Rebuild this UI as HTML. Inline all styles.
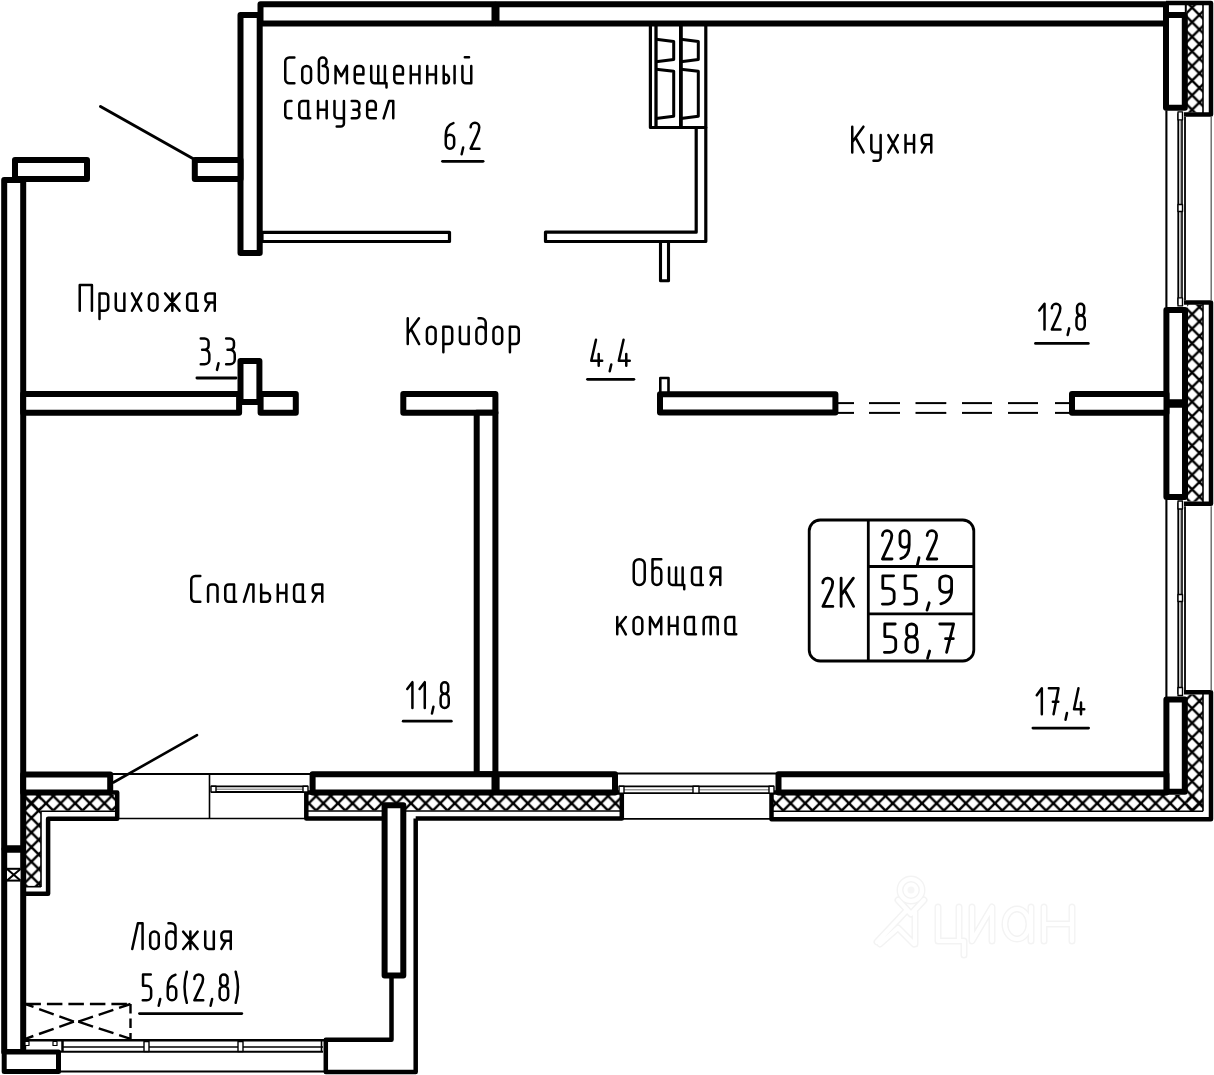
<!DOCTYPE html>
<html><head><meta charset="utf-8"><title>Floor plan</title>
<style>html,body{margin:0;padding:0;background:#fff;} svg{display:block;}</style>
</head><body>
<svg width="1214" height="1075" viewBox="0 0 1214 1075">
<defs><pattern id="h" patternUnits="userSpaceOnUse" width="14.6" height="14.6" x="1199.4" y="0.3">
<path d="M0,0 L14.6,14.6 M14.6,0 L0,14.6" stroke="#000" stroke-width="2.4"/>
<path d="M-1,13.6 L1,15.6 M13.6,-1 L15.6,1 M-1,1 L1,-1 M13.6,15.6 L15.6,13.6" stroke="#000" stroke-width="2.4"/>
</pattern></defs>
<rect width="1214" height="1075" fill="#fff"/>
<g fill="none" stroke-linecap="round" stroke-linejoin="round">
<g stroke="#f3f3f3" stroke-width="7">
<circle cx="911" cy="890" r="11"/>
<path d="M898,900 L911,914 L924,900 M877,942 L907,910 M880,944 L898,928 L914,944 M915,912 V944"/>
<path d="M938,907 V941 H959 V907 M959,941 H964 V955 M972,907 V941 L992,907 V941 M1031,907 V941 M1044,907 V941 M1072,907 V941 M1044,924 H1072"/>
<ellipse cx="1017" cy="924" rx="12" ry="15"/>
</g>
<g stroke="#ffffff" stroke-width="4.2">
<circle cx="911" cy="890" r="11"/>
<path d="M898,900 L911,914 L924,900 M877,942 L907,910 M880,944 L898,928 L914,944 M915,912 V944"/>
<path d="M938,907 V941 H959 V907 M959,941 H964 V955 M972,907 V941 L992,907 V941 M1031,907 V941 M1044,907 V941 M1072,907 V941 M1044,924 H1072"/>
<ellipse cx="1017" cy="924" rx="12" ry="15"/>
</g>
<circle cx="911" cy="890" r="3.5" fill="#f6f6f6" stroke="none"/>
</g>
<g stroke-linejoin="round">
<rect x="1187.0" y="5.0" width="16.0" height="107.5" fill="url(#h)" stroke="none"/>
<line x1="1203.0" y1="4.0" x2="1203.0" y2="113.0" stroke="#000" stroke-width="1.6" />
<path d="M1166,3 H1211 V114.6 H1184" fill="none" stroke="#000" stroke-width="4.5" />
<rect x="1187.0" y="304.5" width="16.0" height="197.0" fill="url(#h)" stroke="none"/>
<line x1="1203.0" y1="304.0" x2="1203.0" y2="502.0" stroke="#000" stroke-width="1.6" />
<path d="M1184,302.4 H1211 V503.8 H1184" fill="none" stroke="#000" stroke-width="4.5" />
<rect x="1187.0" y="694.5" width="16.0" height="116.5" fill="url(#h)" stroke="none"/>
<rect x="771.5" y="795.0" width="431.5" height="16.0" fill="url(#h)" stroke="none"/>
<line x1="1203.0" y1="694.0" x2="1203.0" y2="811.3" stroke="#000" stroke-width="1.6" />
<line x1="773.0" y1="811.3" x2="1203.0" y2="811.3" stroke="#000" stroke-width="1.6" />
<path d="M1184,692.3 H1211 V819.2 H771.5 V792.6 H778" fill="none" stroke="#000" stroke-width="4.5" />
<rect x="306.3" y="795.0" width="315.5" height="15.5" fill="url(#h)" stroke="none"/>
<line x1="307.0" y1="811.0" x2="621.0" y2="811.0" stroke="#000" stroke-width="1.6" />
<path d="M614,792.6 H621.8 V818.6 H415.7" fill="none" stroke="#000" stroke-width="4.5" />
<path d="M382,818.6 H306.3 V792.6 H313" fill="none" stroke="#000" stroke-width="4.5" />
<rect x="25.8" y="795.0" width="91.4" height="15.7" fill="url(#h)" stroke="none"/>
<rect x="25.8" y="795.0" width="15.0" height="91.5" fill="url(#h)" stroke="none"/>
<line x1="41.0" y1="811.2" x2="116.0" y2="811.2" stroke="#000" stroke-width="1.6" />
<line x1="41.0" y1="811.2" x2="41.0" y2="887.0" stroke="#000" stroke-width="1.6" />
<line x1="25.0" y1="886.7" x2="41.0" y2="886.7" stroke="#000" stroke-width="1.6" />
<path d="M110,792.6 H117.2 V818.8 H48.1 V893.7 H23.2" fill="none" stroke="#000" stroke-width="4.5" />
<rect x="15.0" y="160.0" width="72.0" height="19.0" fill="#fff" stroke="#000" stroke-width="6" />
<rect x="4.2" y="180.0" width="19.0" height="668.2" fill="#fff" stroke="#000" stroke-width="6" />
<rect x="4.2" y="849.8" width="19.0" height="202.3" fill="#fff" stroke="#000" stroke-width="6" />
<rect x="4.2" y="1052.1" width="54.3" height="19.3" fill="#fff" stroke="#000" stroke-width="5" />
<rect x="7" y="868.8" width="13.5" height="11.8" fill="#fff" stroke="none"/>
<line x1="7.0" y1="868.8" x2="20.5" y2="868.8" stroke="#000" stroke-width="2" />
<line x1="7.0" y1="880.6" x2="20.5" y2="880.6" stroke="#000" stroke-width="2" />
<line x1="7.0" y1="869.0" x2="20.5" y2="880.5" stroke="#000" stroke-width="2" />
<line x1="20.5" y1="869.0" x2="7.0" y2="880.5" stroke="#000" stroke-width="2" />
<rect x="240.5" y="15.0" width="19.2" height="238.0" fill="#fff" stroke="#000" stroke-width="6" />
<rect x="194.8" y="160.0" width="45.7" height="19.0" fill="#fff" stroke="#000" stroke-width="6" />
<rect x="260.5" y="4.2" width="234.0" height="19.2" fill="#fff" stroke="#000" stroke-width="6" />
<rect x="496.5" y="4.2" width="669.5" height="19.2" fill="#fff" stroke="#000" stroke-width="6" />
<rect x="1166.0" y="14.9" width="18.8" height="92.8" fill="#fff" stroke="#000" stroke-width="6" />
<line x1="1185.8" y1="3.0" x2="1185.8" y2="15.0" stroke="#000" stroke-width="2" />
<rect x="1166.4" y="309.9" width="18.6" height="92.4" fill="#fff" stroke="#000" stroke-width="6" />
<rect x="1166.4" y="404.7" width="18.6" height="92.3" fill="#fff" stroke="#000" stroke-width="6" />
<rect x="1166.4" y="699.6" width="18.4" height="92.1" fill="#fff" stroke="#000" stroke-width="6" />
<rect x="262.0" y="232.3" width="187.5" height="9.2" fill="#fff" stroke="#000" stroke-width="3.2" />
<path d="M545.5,232.2 H696.2 V127.5 H705.8 V241.5 H545.5 Z" fill="#fff" stroke="#000" stroke-width="3.2" />
<path d="M650.4,23 V127.5 H705.8 V23" fill="none" stroke="#000" stroke-width="3.2" />
<line x1="656.0" y1="23.0" x2="656.0" y2="127.5" stroke="#000" stroke-width="3.3" />
<line x1="680.9" y1="23.0" x2="680.9" y2="127.5" stroke="#000" stroke-width="3.8" />
<path d="M656,39.3 L673.7,41.4 V59.6 L656,61.7" fill="none" stroke="#000" stroke-width="3" stroke-linejoin="round"/>
<path d="M656,69.2 L673.7,71.3 V116.3 L656,118.4" fill="none" stroke="#000" stroke-width="3" stroke-linejoin="round"/>
<path d="M680.9,39.3 L698.3,41.4 V59.6 L680.9,61.7" fill="none" stroke="#000" stroke-width="3" stroke-linejoin="round"/>
<path d="M680.9,69.2 L698.3,71.3 V116.3 L680.9,118.4" fill="none" stroke="#000" stroke-width="3" stroke-linejoin="round"/>
<rect x="660.5" y="241.5" width="8.0" height="39.2" fill="#fff" stroke="#000" stroke-width="3.1" />
<rect x="660.3" y="378.0" width="8.2" height="16.0" fill="#fff" stroke="#000" stroke-width="2.6" />
<rect x="660.0" y="394.2" width="175.4" height="18.3" fill="#fff" stroke="#000" stroke-width="6" />
<line x1="838.0" y1="403.1" x2="854.0" y2="403.1" stroke="#000" stroke-width="2" />
<line x1="838.0" y1="412.9" x2="854.0" y2="412.9" stroke="#000" stroke-width="2" />
<line x1="869.0" y1="403.1" x2="900.0" y2="403.1" stroke="#000" stroke-width="2" />
<line x1="869.0" y1="412.9" x2="900.0" y2="412.9" stroke="#000" stroke-width="2" />
<line x1="915.5" y1="403.1" x2="946.3" y2="403.1" stroke="#000" stroke-width="2" />
<line x1="915.5" y1="412.9" x2="946.3" y2="412.9" stroke="#000" stroke-width="2" />
<line x1="962.0" y1="403.1" x2="992.0" y2="403.1" stroke="#000" stroke-width="2" />
<line x1="962.0" y1="412.9" x2="992.0" y2="412.9" stroke="#000" stroke-width="2" />
<line x1="1008.0" y1="403.1" x2="1038.0" y2="403.1" stroke="#000" stroke-width="2" />
<line x1="1008.0" y1="412.9" x2="1038.0" y2="412.9" stroke="#000" stroke-width="2" />
<line x1="1055.0" y1="403.1" x2="1072.0" y2="403.1" stroke="#000" stroke-width="2" />
<line x1="1055.0" y1="412.9" x2="1072.0" y2="412.9" stroke="#000" stroke-width="2" />
<rect x="1072.0" y="393.9" width="94.5" height="18.9" fill="#fff" stroke="#000" stroke-width="6" />
<rect x="23.2" y="394.0" width="215.9" height="18.8" fill="#fff" stroke="#000" stroke-width="6" />
<rect x="240.5" y="361.0" width="18.9" height="40.9" fill="#fff" stroke="#000" stroke-width="6" />
<rect x="260.6" y="393.9" width="35.2" height="18.9" fill="#fff" stroke="#000" stroke-width="6" />
<rect x="403.3" y="394.0" width="92.1" height="18.8" fill="#fff" stroke="#000" stroke-width="6" />
<rect x="476.7" y="412.8" width="18.7" height="361.4" fill="#fff" stroke="#000" stroke-width="6" />
<rect x="23.2" y="774.4" width="87.0" height="18.2" fill="#fff" stroke="#000" stroke-width="6" />
<rect x="312.6" y="774.3" width="181.9" height="18.3" fill="#fff" stroke="#000" stroke-width="6" />
<rect x="496.6" y="774.3" width="118.4" height="18.3" fill="#fff" stroke="#000" stroke-width="6" />
<rect x="778.5" y="774.3" width="387.9" height="18.3" fill="#fff" stroke="#000" stroke-width="6" />
<path d="M391.5,975.6 V1039.8 H325.8 V1071.9 H415.7 V818.6" fill="none" stroke="#000" stroke-width="4.5" stroke-linejoin="round"/>
<rect x="384.6" y="805.2" width="18.7" height="170.4" fill="#fff" stroke="#000" stroke-width="6" />
<line x1="1166.4" y1="110.4" x2="1166.4" y2="307.4" stroke="#000" stroke-width="2.1" />
<line x1="1178.2" y1="113.4" x2="1178.2" y2="304.4" stroke="#000" stroke-width="1.7" />
<line x1="1180.2" y1="113.4" x2="1180.2" y2="304.4" stroke="#aaa" stroke-width="1.6" />
<line x1="1182.0" y1="113.4" x2="1182.0" y2="304.4" stroke="#000" stroke-width="1.6" />
<line x1="1185.0" y1="117.0" x2="1185.0" y2="300.3" stroke="#000" stroke-width="1.8" />
<line x1="1211.2" y1="117.0" x2="1211.2" y2="300.3" stroke="#666" stroke-width="1.4" />
<rect x="1178" y="204.5" width="4.5" height="7" fill="#fff" stroke="#000" stroke-width="1.4"/>
<rect x="1178" y="111.9" width="4.5" height="8" fill="#fff" stroke="#000" stroke-width="1.4"/>
<rect x="1178" y="297.9" width="4.5" height="8" fill="#fff" stroke="#000" stroke-width="1.4"/>
<line x1="1166.4" y1="499.5" x2="1166.4" y2="697.0" stroke="#000" stroke-width="2.1" />
<line x1="1178.2" y1="502.5" x2="1178.2" y2="694.0" stroke="#000" stroke-width="1.7" />
<line x1="1180.2" y1="502.5" x2="1180.2" y2="694.0" stroke="#aaa" stroke-width="1.6" />
<line x1="1182.0" y1="502.5" x2="1182.0" y2="694.0" stroke="#000" stroke-width="1.6" />
<line x1="1185.0" y1="506.3" x2="1185.0" y2="690.5" stroke="#000" stroke-width="1.8" />
<line x1="1211.2" y1="506.3" x2="1211.2" y2="690.5" stroke="#666" stroke-width="1.4" />
<rect x="1178" y="594.5" width="4.5" height="7" fill="#fff" stroke="#000" stroke-width="1.4"/>
<rect x="1178" y="501.0" width="4.5" height="8" fill="#fff" stroke="#000" stroke-width="1.4"/>
<rect x="1178" y="687.5" width="4.5" height="8" fill="#fff" stroke="#000" stroke-width="1.4"/>
<line x1="617.0" y1="773.6" x2="776.0" y2="773.6" stroke="#000" stroke-width="2" />
<line x1="619.0" y1="786.3" x2="774.0" y2="786.3" stroke="#000" stroke-width="1.8" />
<line x1="621.0" y1="789.8" x2="772.0" y2="789.8" stroke="#999" stroke-width="1.5" />
<line x1="619.0" y1="793.2" x2="774.0" y2="793.2" stroke="#000" stroke-width="1.8" />
<line x1="617.0" y1="818.9" x2="776.0" y2="818.9" stroke="#000" stroke-width="1.6" />
<rect x="693" y="786.3" width="6" height="6.900000000000091" fill="#fff" stroke="#000" stroke-width="1.4"/>
<rect x="619" y="786.3" width="5" height="6.9" fill="#fff" stroke="#000" stroke-width="1.4"/>
<rect x="769" y="786.3" width="5" height="6.9" fill="#fff" stroke="#000" stroke-width="1.4"/>
<line x1="113.0" y1="774.0" x2="312.0" y2="774.0" stroke="#000" stroke-width="2" />
<line x1="113.0" y1="818.5" x2="306.0" y2="818.5" stroke="#000" stroke-width="1.6" />
<line x1="209.5" y1="774.0" x2="209.5" y2="818.5" stroke="#000" stroke-width="1.6" />
<line x1="211.0" y1="786.3" x2="308.0" y2="786.3" stroke="#000" stroke-width="1.8" />
<line x1="213.0" y1="789.2" x2="306.0" y2="789.2" stroke="#999" stroke-width="1.5" />
<line x1="211.0" y1="792.0" x2="308.0" y2="792.0" stroke="#000" stroke-width="1.8" />
<rect x="211" y="786.3" width="5" height="5.7" fill="#fff" stroke="#000" stroke-width="1.4"/>
<rect x="303" y="786.3" width="5" height="5.7" fill="#fff" stroke="#000" stroke-width="1.4"/>
<line x1="25.0" y1="1040.2" x2="325.0" y2="1040.2" stroke="#000" stroke-width="2.6" />
<line x1="62.5" y1="1046.9" x2="323.0" y2="1046.9" stroke="#000" stroke-width="1.5" />
<line x1="58.5" y1="1051.8" x2="323.0" y2="1051.8" stroke="#000" stroke-width="2" />
<line x1="58.5" y1="1071.4" x2="326.0" y2="1071.4" stroke="#000" stroke-width="2" />
<line x1="62.5" y1="1041.0" x2="62.5" y2="1052.0" stroke="#000" stroke-width="2.5" />
<rect x="144.0" y="1041.5" width="5" height="10" fill="#fff" stroke="#000" stroke-width="1.4"/>
<rect x="238.0" y="1041.5" width="5" height="10" fill="#fff" stroke="#000" stroke-width="1.4"/>
<rect x="25" y="1041.5" width="4" height="4" fill="#fff" stroke="#000" stroke-width="1.2"/>
<rect x="53" y="1041.5" width="4" height="4" fill="#fff" stroke="#000" stroke-width="1.2"/>
<line x1="321.5" y1="1041.0" x2="321.5" y2="1052.0" stroke="#000" stroke-width="1.6" />
<line x1="100.5" y1="106.5" x2="192.8" y2="158.5" stroke="#000" stroke-width="3" stroke-linecap="round"/>
<line x1="113.3" y1="782.5" x2="197.0" y2="735.2" stroke="#000" stroke-width="2.6" stroke-linecap="round"/>
<path d="M25.4,1004 H130.5" fill="none" stroke="#000" stroke-width="2.4" stroke-dasharray="15.5 6"/>
<path d="M130.5,1004 V1039" fill="none" stroke="#000" stroke-width="2.4" stroke-dasharray="9.5 5"/>
<path d="M73.9,1021.7 L25.4,1004" fill="none" stroke="#000" stroke-width="2.4" stroke-dasharray="15.5 6"/>
<path d="M73.9,1021.7 L25.4,1038.8" fill="none" stroke="#000" stroke-width="2.4" stroke-dasharray="15.5 6"/>
<path d="M78.3,1021.7 L130.5,1004" fill="none" stroke="#000" stroke-width="2.4" stroke-dasharray="15.5 6"/>
<path d="M78.3,1021.7 L130.5,1038.8" fill="none" stroke="#000" stroke-width="2.4" stroke-dasharray="15.5 6"/>
<rect x="809.2" y="520" width="164.6" height="141" rx="11" fill="none" stroke="#000" stroke-width="2.8"/>
<line x1="868.3" y1="520.0" x2="868.3" y2="661.0" stroke="#000" stroke-width="2.8" />
<line x1="868.3" y1="566.5" x2="973.8" y2="566.5" stroke="#000" stroke-width="2.8" />
<line x1="868.3" y1="613.9" x2="973.8" y2="613.9" stroke="#000" stroke-width="2.8" />
<line x1="442.5" y1="161.3" x2="483.1" y2="161.3" stroke="#000" stroke-width="2.8" stroke-linecap="round"/>
<line x1="196.9" y1="378.0" x2="236.0" y2="378.0" stroke="#000" stroke-width="2.8" stroke-linecap="round"/>
<line x1="587.5" y1="379.3" x2="633.9" y2="379.3" stroke="#000" stroke-width="2.8" stroke-linecap="round"/>
<line x1="1035.5" y1="343.4" x2="1088.3" y2="343.4" stroke="#000" stroke-width="2.8" stroke-linecap="round"/>
<line x1="403.2" y1="721.2" x2="451.3" y2="721.2" stroke="#000" stroke-width="2.8" stroke-linecap="round"/>
<line x1="1032.9" y1="728.1" x2="1088.6" y2="728.1" stroke="#000" stroke-width="2.8" stroke-linecap="round"/>
<line x1="139.5" y1="1013.6" x2="241.8" y2="1013.6" stroke="#000" stroke-width="2.8" stroke-linecap="round"/>
</g>
<g fill="none" stroke="#000" stroke-linecap="round" stroke-linejoin="round">
<g transform="translate(285.25,83.25) scale(1.0043,0.9850)" stroke-width="2.5"><path vector-effect="non-scaling-stroke" transform="translate(0.00,0)" d="M9.1,-26.2 H4 A4,4 0 0 0 0.00,-22.20 V-4 A4,4 0 0 0 4.00,0.00 H9.1"/><path vector-effect="non-scaling-stroke" transform="translate(16.90,0)" d="M0,-13.20 A4.4,4.4 0 0 1 8.80,-13.20 V-4.40 A4.4,4.4 0 0 1 0.00,-4.40 Z"/><path vector-effect="non-scaling-stroke" transform="translate(33.50,0)" d="M0,-4.4 V-22.4 A3.8,3.8 0 0 1 7.60,-22.40 V-21.4 A3.8,3.8 0 0 1 3.80,-17.60 H4.4 A4.4,4.4 0 0 1 8.80,-13.20 V-4.4 A4.4,4.4 0 0 1 0.00,-4.40"/><path vector-effect="non-scaling-stroke" transform="translate(50.10,0)" d="M0,0 V-17.6 L5.65,-7.2 L11.3,-17.6 V0"/><path vector-effect="non-scaling-stroke" transform="translate(69.20,0)" d="M0.3,-8.8 H8.6 V-14.100000000000001 A3.5,3.5 0 0 0 5.10,-17.60 H3.5 A3.5,3.5 0 0 0 0.00,-14.10 V-3.5 A3.5,3.5 0 0 0 3.50,0.00 H8.6"/><path vector-effect="non-scaling-stroke" transform="translate(85.60,0)" d="M0,-17.6 V-3.5 A3.5,3.5 0 0 0 3.50,0.00 H15.2 V4.3 M7.0,-17.6 V0 M13.6,-17.6 V0"/><path vector-effect="non-scaling-stroke" transform="translate(108.60,0)" d="M0.3,-8.8 H8.6 V-14.100000000000001 A3.5,3.5 0 0 0 5.10,-17.60 H3.5 A3.5,3.5 0 0 0 0.00,-14.10 V-3.5 A3.5,3.5 0 0 0 3.50,0.00 H8.6"/><path vector-effect="non-scaling-stroke" transform="translate(125.00,0)" d="M0,-17.6 V0 M8.6,-17.6 V0 M0,-8.8 H8.6"/><path vector-effect="non-scaling-stroke" transform="translate(141.40,0)" d="M0,-17.6 V0 M8.6,-17.6 V0 M0,-8.8 H8.6"/><path vector-effect="non-scaling-stroke" transform="translate(157.80,0)" d="M0,-17.6 V0 H1.7 A3.5,3.5 0 0 0 5.20,-3.50 V-5.300000000000001 A3.5,3.5 0 0 0 1.70,-8.80 H0 M10.8,-17.6 V0"/><path vector-effect="non-scaling-stroke" transform="translate(176.40,0)" d="M0,-17.6 V-3.5 A3.5,3.5 0 0 0 3.50,0.00 H8.8 M8.8,-17.6 V0 M2.4,-26.4 H6.6"/></g>
<g transform="translate(285.25,118.35) scale(1.0028,0.9850)" stroke-width="2.5"><path vector-effect="non-scaling-stroke" transform="translate(0.00,0)" d="M6.2,-17.6 H3.5 A3.5,3.5 0 0 0 0.00,-14.10 V-3.5 A3.5,3.5 0 0 0 3.50,0.00 H6.2"/><path vector-effect="non-scaling-stroke" transform="translate(14.00,0)" d="M8.8,-17.6 H3.5 A3.5,3.5 0 0 0 0.00,-14.10 V-3.5 A3.5,3.5 0 0 0 3.50,0.00 H8.8 M8.8,-17.6 V-1.8 Q8.8,0 10.9,0"/><path vector-effect="non-scaling-stroke" transform="translate(32.70,0)" d="M0,-17.6 V0 M8.6,-17.6 V0 M0,-8.8 H8.6"/><path vector-effect="non-scaling-stroke" transform="translate(49.10,0)" d="M0,-17.6 V-3.5 A3.5,3.5 0 0 0 3.50,0.00 H9.4 M9.4,-17.6 V5.2 A3.2,3.2 0 0 1 6.20,8.40 H2.2"/><path vector-effect="non-scaling-stroke" transform="translate(66.30,0)" d="M0,-17.6 H4.1 A3.5,3.5 0 0 1 7.60,-14.10 V-11.700000000000001 A3.2,3.2 0 0 1 4.40,-8.80 H1.6 M4.1,-8.8 A3.5,3.5 0 0 1 7.60,-5.30 V-3.5 A3.5,3.5 0 0 1 4.10,0.00 H0"/><path vector-effect="non-scaling-stroke" transform="translate(81.70,0)" d="M0.3,-8.8 H8.6 V-14.100000000000001 A3.5,3.5 0 0 0 5.10,-17.60 H3.5 A3.5,3.5 0 0 0 0.00,-14.10 V-3.5 A3.5,3.5 0 0 0 3.50,0.00 H8.6"/><path vector-effect="non-scaling-stroke" transform="translate(98.10,0)" d="M0,0 L5.4,-17.6 H9.6 V0"/></g>
<g transform="translate(445.75,148.65) scale(0.9571,0.9850)" stroke-width="2.5"><path vector-effect="non-scaling-stroke" transform="translate(0.00,0)" d="M8.0,-25.9 C3.2,-24.6 0,-20 0,-13 V-4.4 A4.4,4.4 0 0 0 8.80,-4.40 V-9.8 A4.4,4.4 0 0 0 0.00,-9.80"/><path vector-effect="non-scaling-stroke" transform="translate(16.60,0)" d="M1.6,-1.2 L0,5.6"/><path vector-effect="non-scaling-stroke" transform="translate(26.00,0)" d="M0,-21.7 A4.5,4.5 0 0 1 9.00,-21.70 C9,-18.8 8.2,-17 7,-14.6 L0,0 H9.2"/></g>
<g transform="translate(852.25,152.45) scale(0.9887,0.9850)" stroke-width="2.5"><path vector-effect="non-scaling-stroke" transform="translate(0.00,0)" d="M0,-26.2 V0 M11.3,-26.2 L0.6,-11.4 M3.6,-14.6 L11.5,0"/><path vector-effect="non-scaling-stroke" transform="translate(19.30,0)" d="M0,-17.6 V-3.5 A3.5,3.5 0 0 0 3.50,0.00 H9.4 M9.4,-17.6 V5.2 A3.2,3.2 0 0 1 6.20,8.40 H2.2"/><path vector-effect="non-scaling-stroke" transform="translate(36.50,0)" d="M0,-17.6 L9.6,0 M9.6,-17.6 L0,0"/><path vector-effect="non-scaling-stroke" transform="translate(53.90,0)" d="M0,-17.6 V0 M8.6,-17.6 V0 M0,-8.8 H8.6"/><path vector-effect="non-scaling-stroke" transform="translate(70.30,0)" d="M9.6,0 V-17.6 H3.5 A3.5,3.5 0 0 0 0.00,-14.10 V-11.8 A3.5,3.5 0 0 0 3.50,-8.30 H9.6 M4.6,-8.3 L0,0"/></g>
<g transform="translate(79.75,310.75) scale(0.9740,0.9850)" stroke-width="2.5"><path vector-effect="non-scaling-stroke" transform="translate(0.00,0)" d="M0,0 V-26.2 H12.5 V0"/><path vector-effect="non-scaling-stroke" transform="translate(20.30,0)" d="M0,8.4 V-17.6 H5.4 A3.5,3.5 0 0 1 8.90,-14.10 V-3.5 A3.5,3.5 0 0 1 5.40,0.00 H0"/><path vector-effect="non-scaling-stroke" transform="translate(37.00,0)" d="M0,-17.6 V-3.5 A3.5,3.5 0 0 0 3.50,0.00 H8.8 M8.8,-17.6 V0"/><path vector-effect="non-scaling-stroke" transform="translate(53.60,0)" d="M0,-17.6 L9.6,0 M9.6,-17.6 L0,0"/><path vector-effect="non-scaling-stroke" transform="translate(71.00,0)" d="M0,-13.20 A4.4,4.4 0 0 1 8.80,-13.20 V-4.40 A4.4,4.4 0 0 1 0.00,-4.40 Z"/><path vector-effect="non-scaling-stroke" transform="translate(87.60,0)" d="M0,-17.6 L7.45,-8.8 L0,0 M14.9,-17.6 L7.45,-8.8 L14.9,0 M7.45,-17.6 V0"/><path vector-effect="non-scaling-stroke" transform="translate(110.30,0)" d="M8.8,-17.6 H3.5 A3.5,3.5 0 0 0 0.00,-14.10 V-3.5 A3.5,3.5 0 0 0 3.50,0.00 H8.8 M8.8,-17.6 V-1.8 Q8.8,0 10.9,0"/><path vector-effect="non-scaling-stroke" transform="translate(129.00,0)" d="M9.6,0 V-17.6 H3.5 A3.5,3.5 0 0 0 0.00,-14.10 V-11.8 A3.5,3.5 0 0 0 3.50,-8.30 H9.6 M4.6,-8.3 L0,0"/></g>
<g transform="translate(200.75,364.35) scale(0.9770,0.9850)" stroke-width="2.5"><path vector-effect="non-scaling-stroke" transform="translate(0.00,0)" d="M0,-26.2 H3.9 A4.1,4.1 0 0 1 8.00,-22.10 V-18.9 A4.1,4.1 0 0 1 3.90,-14.80 H1.4 M3.9,-14.8 A4.9,4.9 0 0 1 8.80,-9.90 V-4.9 A4.9,4.9 0 0 1 3.90,0.00 H0"/><path vector-effect="non-scaling-stroke" transform="translate(16.60,0)" d="M1.6,-1.2 L0,5.6"/><path vector-effect="non-scaling-stroke" transform="translate(26.00,0)" d="M0,-26.2 H3.9 A4.1,4.1 0 0 1 8.00,-22.10 V-18.9 A4.1,4.1 0 0 1 3.90,-14.80 H1.4 M3.9,-14.8 A4.9,4.9 0 0 1 8.80,-9.90 V-4.9 A4.9,4.9 0 0 1 3.90,0.00 H0"/></g>
<g transform="translate(407.75,344.05) scale(0.9920,0.9850)" stroke-width="2.5"><path vector-effect="non-scaling-stroke" transform="translate(0.00,0)" d="M0,-26.2 V0 M11.3,-26.2 L0.6,-11.4 M3.6,-14.6 L11.5,0"/><path vector-effect="non-scaling-stroke" transform="translate(19.30,0)" d="M0,-13.20 A4.4,4.4 0 0 1 8.80,-13.20 V-4.40 A4.4,4.4 0 0 1 0.00,-4.40 Z"/><path vector-effect="non-scaling-stroke" transform="translate(35.90,0)" d="M0,8.4 V-17.6 H5.4 A3.5,3.5 0 0 1 8.90,-14.10 V-3.5 A3.5,3.5 0 0 1 5.40,0.00 H0"/><path vector-effect="non-scaling-stroke" transform="translate(52.60,0)" d="M0,-17.6 V-3.5 A3.5,3.5 0 0 0 3.50,0.00 H8.8 M8.8,-17.6 V0"/><path vector-effect="non-scaling-stroke" transform="translate(69.20,0)" d="M0,-12.90 A4.7,4.7 0 0 1 9.40,-12.90 V-4.70 A4.7,4.7 0 0 1 0.00,-4.70 Z M9.4,-12.900000000000002 V-21.5 A4.7,4.7 0 0 0 4.70,-26.20 H2.2"/><path vector-effect="non-scaling-stroke" transform="translate(86.40,0)" d="M0,-13.20 A4.4,4.4 0 0 1 8.80,-13.20 V-4.40 A4.4,4.4 0 0 1 0.00,-4.40 Z"/><path vector-effect="non-scaling-stroke" transform="translate(103.00,0)" d="M0,8.4 V-17.6 H5.4 A3.5,3.5 0 0 1 8.90,-14.10 V-3.5 A3.5,3.5 0 0 1 5.40,0.00 H0"/></g>
<g transform="translate(591.25,365.65) scale(0.9673,0.9850)" stroke-width="2.5"><path vector-effect="non-scaling-stroke" transform="translate(0.00,0)" d="M4.9,-26.2 L0,-4.9 H11.3 M7.7,-11.8 V0"/><path vector-effect="non-scaling-stroke" transform="translate(19.10,0)" d="M1.6,-1.2 L0,5.6"/><path vector-effect="non-scaling-stroke" transform="translate(28.50,0)" d="M4.9,-26.2 L0,-4.9 H11.3 M7.7,-11.8 V0"/></g>
<g transform="translate(1039.25,329.55) scale(0.9401,0.9850)" stroke-width="2.5"><path vector-effect="non-scaling-stroke" transform="translate(0.00,0)" d="M0,-19.3 L5.6,-26.2 V0"/><path vector-effect="non-scaling-stroke" transform="translate(13.40,0)" d="M0,-21.7 A4.5,4.5 0 0 1 9.00,-21.70 C9,-18.8 8.2,-17 7,-14.6 L0,0 H9.2"/><path vector-effect="non-scaling-stroke" transform="translate(30.20,0)" d="M1.6,-1.2 L0,5.6"/><path vector-effect="non-scaling-stroke" transform="translate(39.60,0)" d="M0.6,-22.4 A3.8,3.8 0 0 1 8.20,-22.40 V-18.2 A3.8,3.8 0 0 1 0.60,-18.20 Z M0,-9.9 A4.4,4.4 0 0 1 8.80,-9.90 V-4.4 A4.4,4.4 0 0 1 0.00,-4.40 Z"/></g>
<g transform="translate(191.25,601.75) scale(0.9947,0.9850)" stroke-width="2.5"><path vector-effect="non-scaling-stroke" transform="translate(0.00,0)" d="M9.1,-26.2 H4 A4,4 0 0 0 0.00,-22.20 V-4 A4,4 0 0 0 4.00,0.00 H9.1"/><path vector-effect="non-scaling-stroke" transform="translate(16.90,0)" d="M0,0 V-14.100000000000001 A3.5,3.5 0 0 1 3.50,-17.60 H6.0 A3.5,3.5 0 0 1 9.50,-14.10 V0"/><path vector-effect="non-scaling-stroke" transform="translate(34.20,0)" d="M8.8,-17.6 H3.5 A3.5,3.5 0 0 0 0.00,-14.10 V-3.5 A3.5,3.5 0 0 0 3.50,0.00 H8.8 M8.8,-17.6 V-1.8 Q8.8,0 10.9,0"/><path vector-effect="non-scaling-stroke" transform="translate(52.90,0)" d="M0,0 L5.4,-17.6 H9.6 V0"/><path vector-effect="non-scaling-stroke" transform="translate(70.30,0)" d="M0,-17.6 V0 H5.4 A3.5,3.5 0 0 0 8.90,-3.50 V-5.300000000000001 A3.5,3.5 0 0 0 5.40,-8.80 H0"/><path vector-effect="non-scaling-stroke" transform="translate(87.00,0)" d="M0,-17.6 V0 M8.6,-17.6 V0 M0,-8.8 H8.6"/><path vector-effect="non-scaling-stroke" transform="translate(103.40,0)" d="M8.8,-17.6 H3.5 A3.5,3.5 0 0 0 0.00,-14.10 V-3.5 A3.5,3.5 0 0 0 3.50,0.00 H8.8 M8.8,-17.6 V-1.8 Q8.8,0 10.9,0"/><path vector-effect="non-scaling-stroke" transform="translate(122.10,0)" d="M9.6,0 V-17.6 H3.5 A3.5,3.5 0 0 0 0.00,-14.10 V-11.8 A3.5,3.5 0 0 0 3.50,-8.30 H9.6 M4.6,-8.3 L0,0"/></g>
<g transform="translate(407.25,707.95) scale(0.9222,0.9850)" stroke-width="2.5"><path vector-effect="non-scaling-stroke" transform="translate(0.00,0)" d="M0,-19.3 L5.6,-26.2 V0"/><path vector-effect="non-scaling-stroke" transform="translate(13.40,0)" d="M0,-19.3 L5.6,-26.2 V0"/><path vector-effect="non-scaling-stroke" transform="translate(26.80,0)" d="M1.6,-1.2 L0,5.6"/><path vector-effect="non-scaling-stroke" transform="translate(36.20,0)" d="M0.6,-22.4 A3.8,3.8 0 0 1 8.20,-22.40 V-18.2 A3.8,3.8 0 0 1 0.60,-18.20 Z M0,-9.9 A4.4,4.4 0 0 1 8.80,-9.90 V-4.4 A4.4,4.4 0 0 1 0.00,-4.40 Z"/></g>
<g transform="translate(633.75,584.95) scale(0.9977,0.9850)" stroke-width="2.5"><path vector-effect="non-scaling-stroke" transform="translate(0.00,0)" d="M0,-20.70 A5.5,5.5 0 0 1 11.00,-20.70 V-5.50 A5.5,5.5 0 0 1 0.00,-5.50 Z"/><path vector-effect="non-scaling-stroke" transform="translate(18.80,0)" d="M0,-13.20 A4.4,4.4 0 0 1 8.80,-13.20 V-4.40 A4.4,4.4 0 0 1 0.00,-4.40 Z M0,-13.200000000000001 V-26.2 H8.8"/><path vector-effect="non-scaling-stroke" transform="translate(35.40,0)" d="M0,-17.6 V-3.5 A3.5,3.5 0 0 0 3.50,0.00 H15.2 V4.3 M7.0,-17.6 V0 M13.6,-17.6 V0"/><path vector-effect="non-scaling-stroke" transform="translate(58.40,0)" d="M8.8,-17.6 H3.5 A3.5,3.5 0 0 0 0.00,-14.10 V-3.5 A3.5,3.5 0 0 0 3.50,0.00 H8.8 M8.8,-17.6 V-1.8 Q8.8,0 10.9,0"/><path vector-effect="non-scaling-stroke" transform="translate(77.10,0)" d="M9.6,0 V-17.6 H3.5 A3.5,3.5 0 0 0 0.00,-14.10 V-11.8 A3.5,3.5 0 0 0 3.50,-8.30 H9.6 M4.6,-8.3 L0,0"/></g>
<g transform="translate(617.25,634.35) scale(0.9900,0.9850)" stroke-width="2.5"><path vector-effect="non-scaling-stroke" transform="translate(0.00,0)" d="M0,-17.6 V0 M8.7,-17.6 L0.6,-7.6 M3.0,-10.2 L8.7,0"/><path vector-effect="non-scaling-stroke" transform="translate(16.50,0)" d="M0,-13.20 A4.4,4.4 0 0 1 8.80,-13.20 V-4.40 A4.4,4.4 0 0 1 0.00,-4.40 Z"/><path vector-effect="non-scaling-stroke" transform="translate(33.10,0)" d="M0,0 V-17.6 L5.65,-7.2 L11.3,-17.6 V0"/><path vector-effect="non-scaling-stroke" transform="translate(52.20,0)" d="M0,-17.6 V0 M8.6,-17.6 V0 M0,-8.8 H8.6"/><path vector-effect="non-scaling-stroke" transform="translate(68.60,0)" d="M8.8,-17.6 H3.5 A3.5,3.5 0 0 0 0.00,-14.10 V-3.5 A3.5,3.5 0 0 0 3.50,0.00 H8.8 M8.8,-17.6 V-1.8 Q8.8,0 10.9,0"/><path vector-effect="non-scaling-stroke" transform="translate(87.30,0)" d="M0,0 V-14.100000000000001 A3.5,3.5 0 0 1 3.50,-17.60 H10.7 A3.5,3.5 0 0 1 14.20,-14.10 V0 M7.1,-17.6 V0"/><path vector-effect="non-scaling-stroke" transform="translate(109.30,0)" d="M8.8,-17.6 H3.5 A3.5,3.5 0 0 0 0.00,-14.10 V-3.5 A3.5,3.5 0 0 0 3.50,0.00 H8.8 M8.8,-17.6 V-1.8 Q8.8,0 10.9,0"/></g>
<g transform="translate(1036.75,714.15) scale(0.9048,0.9850)" stroke-width="2.5"><path vector-effect="non-scaling-stroke" transform="translate(0.00,0)" d="M0,-19.3 L5.6,-26.2 V0"/><path vector-effect="non-scaling-stroke" transform="translate(13.40,0)" d="M0,-26.2 H10.6 L5.2,0 M4.4,-12.6 H10.4"/><path vector-effect="non-scaling-stroke" transform="translate(31.80,0)" d="M1.6,-1.2 L0,5.6"/><path vector-effect="non-scaling-stroke" transform="translate(41.20,0)" d="M4.9,-26.2 L0,-4.9 H11.3 M7.7,-11.8 V0"/></g>
<g transform="translate(132.25,948.95) scale(0.9743,0.9850)" stroke-width="2.5"><path vector-effect="non-scaling-stroke" transform="translate(0.00,0)" d="M0,0 L5.8,-26.2 H10.6 V0"/><path vector-effect="non-scaling-stroke" transform="translate(18.40,0)" d="M0,-13.20 A4.4,4.4 0 0 1 8.80,-13.20 V-4.40 A4.4,4.4 0 0 1 0.00,-4.40 Z"/><path vector-effect="non-scaling-stroke" transform="translate(35.00,0)" d="M0,-12.90 A4.7,4.7 0 0 1 9.40,-12.90 V-4.70 A4.7,4.7 0 0 1 0.00,-4.70 Z M9.4,-12.900000000000002 V-21.5 A4.7,4.7 0 0 0 4.70,-26.20 H2.2"/><path vector-effect="non-scaling-stroke" transform="translate(52.20,0)" d="M0,-17.6 L7.45,-8.8 L0,0 M14.9,-17.6 L7.45,-8.8 L14.9,0 M7.45,-17.6 V0"/><path vector-effect="non-scaling-stroke" transform="translate(74.90,0)" d="M0,-17.6 V-3.5 A3.5,3.5 0 0 0 3.50,0.00 H8.8 M8.8,-17.6 V0"/><path vector-effect="non-scaling-stroke" transform="translate(91.50,0)" d="M9.6,0 V-17.6 H3.5 A3.5,3.5 0 0 0 0.00,-14.10 V-11.8 A3.5,3.5 0 0 0 3.50,-8.30 H9.6 M4.6,-8.3 L0,0"/></g>
<g transform="translate(142.75,1000.25) scale(0.9648,0.9850)" stroke-width="2.5"><path vector-effect="non-scaling-stroke" transform="translate(0.00,0)" d="M8.3,-26.2 H0.3 V-14.6 H4.3 A4.4,4.4 0 0 1 8.70,-10.20 V-4.4 A4.4,4.4 0 0 1 4.30,0.00 H0"/><path vector-effect="non-scaling-stroke" transform="translate(16.50,0)" d="M1.6,-1.2 L0,5.6"/><path vector-effect="non-scaling-stroke" transform="translate(25.90,0)" d="M8.0,-25.9 C3.2,-24.6 0,-20 0,-13 V-4.4 A4.4,4.4 0 0 0 8.80,-4.40 V-9.8 A4.4,4.4 0 0 0 0.00,-9.80"/><path vector-effect="non-scaling-stroke" transform="translate(42.50,0)" d="M3.2,-29 Q-1.6,-13.2 3.2,2.6"/><path vector-effect="non-scaling-stroke" transform="translate(53.50,0)" d="M0,-21.7 A4.5,4.5 0 0 1 9.00,-21.70 C9,-18.8 8.2,-17 7,-14.6 L0,0 H9.2"/><path vector-effect="non-scaling-stroke" transform="translate(70.30,0)" d="M1.6,-1.2 L0,5.6"/><path vector-effect="non-scaling-stroke" transform="translate(79.70,0)" d="M0.6,-22.4 A3.8,3.8 0 0 1 8.20,-22.40 V-18.2 A3.8,3.8 0 0 1 0.60,-18.20 Z M0,-9.9 A4.4,4.4 0 0 1 8.80,-9.90 V-4.4 A4.4,4.4 0 0 1 0.00,-4.40 Z"/><path vector-effect="non-scaling-stroke" transform="translate(96.30,0)" d="M0,-29 Q4.8,-13.2 0,2.6"/></g>
<g transform="translate(822.90,606.40) scale(1.0848,1.0800)" stroke-width="2.8"><path vector-effect="non-scaling-stroke" transform="translate(0.00,0)" d="M0,-21.7 A4.5,4.5 0 0 1 9.00,-21.70 C9,-18.8 8.2,-17 7,-14.6 L0,0 H9.2"/><path vector-effect="non-scaling-stroke" transform="translate(16.80,0)" d="M0,-26.2 V0 M11.3,-26.2 L0.6,-11.4 M3.6,-14.6 L11.5,0"/></g>
<g transform="translate(882.40,559.00) scale(1.0463,1.0800)" stroke-width="2.8"><path vector-effect="non-scaling-stroke" transform="translate(0.00,0)" d="M0,-21.7 A4.5,4.5 0 0 1 9.00,-21.70 C9,-18.8 8.2,-17 7,-14.6 L0,0 H9.2"/><path vector-effect="non-scaling-stroke" transform="translate(16.80,0)" d="M0.8,-0.3 C5.6,-1.6 8.8,-6.2 8.8,-13 V-21.8 A4.4,4.4 0 0 0 0.00,-21.80 V-15.2 A4.4,4.4 0 0 0 8.80,-15.20"/><path vector-effect="non-scaling-stroke" transform="translate(33.40,0)" d="M1.6,-1.2 L0,5.6"/><path vector-effect="non-scaling-stroke" transform="translate(42.80,0)" d="M0,-21.7 A4.5,4.5 0 0 1 9.00,-21.70 C9,-18.8 8.2,-17 7,-14.6 L0,0 H9.2"/></g>
<g transform="translate(882.40,604.10) scale(1.3516,1.0800)" stroke-width="2.8"><path vector-effect="non-scaling-stroke" transform="translate(0.00,0)" d="M8.3,-26.2 H0.3 V-14.6 H4.3 A4.4,4.4 0 0 1 8.70,-10.20 V-4.4 A4.4,4.4 0 0 1 4.30,0.00 H0"/><path vector-effect="non-scaling-stroke" transform="translate(16.50,0)" d="M8.3,-26.2 H0.3 V-14.6 H4.3 A4.4,4.4 0 0 1 8.70,-10.20 V-4.4 A4.4,4.4 0 0 1 4.30,0.00 H0"/><path vector-effect="non-scaling-stroke" transform="translate(33.00,0)" d="M1.6,-1.2 L0,5.6"/><path vector-effect="non-scaling-stroke" transform="translate(42.40,0)" d="M0.8,-0.3 C5.6,-1.6 8.8,-6.2 8.8,-13 V-21.8 A4.4,4.4 0 0 0 0.00,-21.80 V-15.2 A4.4,4.4 0 0 0 8.80,-15.20"/></g>
<g transform="translate(884.40,652.30) scale(1.3032,1.0800)" stroke-width="2.8"><path vector-effect="non-scaling-stroke" transform="translate(0.00,0)" d="M8.3,-26.2 H0.3 V-14.6 H4.3 A4.4,4.4 0 0 1 8.70,-10.20 V-4.4 A4.4,4.4 0 0 1 4.30,0.00 H0"/><path vector-effect="non-scaling-stroke" transform="translate(16.50,0)" d="M0.6,-22.4 A3.8,3.8 0 0 1 8.20,-22.40 V-18.2 A3.8,3.8 0 0 1 0.60,-18.20 Z M0,-9.9 A4.4,4.4 0 0 1 8.80,-9.90 V-4.4 A4.4,4.4 0 0 1 0.00,-4.40 Z"/><path vector-effect="non-scaling-stroke" transform="translate(33.10,0)" d="M1.6,-1.2 L0,5.6"/><path vector-effect="non-scaling-stroke" transform="translate(42.50,0)" d="M0,-26.2 H10.6 L5.2,0 M4.4,-12.6 H10.4"/></g>
</g>
</svg>
</body></html>
